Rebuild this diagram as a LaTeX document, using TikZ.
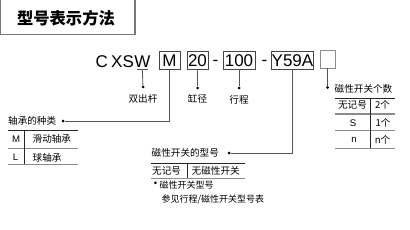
\documentclass[tikz,border=0pt]{standalone}
\usepackage{fontspec}
\setmainfont{Liberation Sans}
\newfontfamily\cjk{Noto Sans CJK SC}
\usepackage{xcolor}
\usepackage{tikz}
\usetikzlibrary{positioning,calc}
\definecolor{boxgray}{RGB}{70,70,70}
\definecolor{leadgray}{RGB}{85,85,85}
\definecolor{sepgray}{RGB}{140,140,140}
\definecolor{framegray}{RGB}{120,120,120}
\newcommand{\codefont}{\fontsize{17}{19}\selectfont}
\newcommand{\lblfont}{\fontsize{9.6}{11}\selectfont}
\newcommand{\notefont}{\fontsize{9}{10}\selectfont}
\tikzset{
  titleframe/.style={draw=framegray, line width=1.3pt},
  % 型号代码
  codetxt/.style={font=\codefont, inner sep=0pt, anchor=base west},
  codebox/.style={draw=boxgray, line width=0.8pt, font=\codefont, inner xsep=0pt, inner ysep=0pt,
    minimum height=17.5pt, text height=12.3pt, text depth=0pt},
  lead/.style={draw=leadgray, line width=0.8pt},
  dot/.style={circle, fill=black, inner sep=0pt, minimum size=3pt},
  lbl/.style={font=\lblfont\cjk, inner sep=0pt},
  latin/.style={font=\lblfont, inner sep=0pt},
  note/.style={font=\notefont\cjk, inner sep=0pt, anchor=west},
  % 表格
  topline/.style={draw=black!85, line width=0.7pt},
  sepline/.style={draw=sepgray, line width=1.3pt},
  colline/.style={draw=black!85, line width=0.8pt}
}
\begin{document}
\begin{tikzpicture}[x=1pt,y=-1pt]
  \useasboundingbox (0,0) rectangle (410,230);

  \draw[titleframe] (0.6,-2) rectangle (135,34.5);
  \node[font=\fontsize{16.3}{18}\selectfont\cjk\bfseries, inner sep=0pt] (title) at (66,18) {型号表示方法};

  % 代码行
  \node[codetxt] (c) at (95.5,67) {C};
  \node[codetxt] (xs) at (111,67) {XS};
  \node[codetxt] (w) at (xs.base east) {W};
  \node[codebox, minimum width=21pt] (m) at (169.5,60.3) {M};
  \node[codebox, minimum width=21pt] (bore) at (197.5,60.3) {20};
  \node[codetxt, anchor=base] (d1) at (215.5,65.3) {-};
  \node[codebox, minimum width=32pt] (stroke) at (239,60.3) {100};
  \node[codetxt, anchor=base] (d2) at (264.5,65.3) {-};
  \node[codebox, minimum width=41pt] (sw) at (292.5,60.3) {Y59A};
  \node[codebox, draw=sepgray, minimum width=15pt, minimum height=18pt] (num) at (327.5,59) {};

  \coordinate (wul) at ([yshift=-2.5pt]w.south);
  \draw[lead] ([xshift=-5.5pt]wul) -- ([xshift=5.5pt]wul);

  % 引线
  \node[dot] (dW) at (143,87) {};
  \node[dot] (dBore) at (197.5,88) {};
  \node[dot] (dStroke) at (239,88) {};
  \node[dot] (dM) at (63,121) {};
  \node[dot] (dSw) at (229,153) {};
  \node[dot] (dNum) at (327.5,87.5) {};
  \draw[lead] (wul) -- (dW);
  \draw[lead] (bore.south) -- (dBore);
  \draw[lead] (stroke.south) -- (dStroke);
  \draw[lead] (m.south) |- (dM);
  \draw[lead] (sw.south) |- (dSw);
  \draw[lead] (num.south) -- (dNum);

  \node[lbl] (rod) at (143,98.5) {双出杆};
  \node[lbl] (borelbl) at (197.5,98.5) {缸径};
  \node[lbl] (strokelbl) at (239,100) {行程};

  % 轴承的种类
  \node[lbl, anchor=west] (bearing) at (8,121) {轴承的种类};
  \draw[topline] (8,130) -- (78,130);
  \draw[sepline] (8,148.3) -- (78,148.3);
  \draw[sepline] (8,164.3) -- (78,164.3);
  \draw[colline] (24,130) -- (24,164.3);
  \node[latin] (bm) at (16,139) {M};
  \node[lbl, anchor=west] (bslide) at (32.5,139) {滑动轴承};
  \node[latin] (bl) at (15.5,157.5) {L};
  \node[lbl, anchor=west] (bball) at (32.5,157.5) {球轴承};

  % 磁性开关的型号
  \node[lbl, anchor=west] (swtype) at (151.5,153) {磁性开关的型号};
  \draw[topline] (151,163) -- (245,163);
  \draw[sepline] (151,178.3) -- (245,178.3);
  \draw[colline] (187,163) -- (187,178.3);
  \node[lbl, anchor=west] (swnone) at (152,170.7) {无记号};
  \node[lbl, anchor=west] (swnomag) at (191.5,170.7) {无磁性开关};
  \node[latin] (bullet) at (155.5,184.5) {•};
  \node[note] (note1) at (159.5,185) {磁性开关型号};
  \node[note] (note2) at (161.5,200) {参见行程/磁性开关型号表};

  % 磁性开关个数
  \node[lbl, anchor=west] (swnum) at (334.5,89.3) {磁性开关个数};
  \draw[topline] (335,98.3) -- (395,98.3);
  \draw[sepline] (335,114) -- (395,114);
  \draw[sepline] (335,130.7) -- (395,130.7);
  \draw[sepline] (335,148.3) -- (395,148.3);
  \draw[colline] (370,98.3) -- (370,148.3);
  \node[lbl] (nnone) at (352.5,105.3) {无记号};
  \node[lbl] (ntwo) at (382.5,105.3) {2个};
  \node[latin] (ns) at (353,122.7) {S};
  \node[lbl] (none) at (383,122.7) {1个};
  \node[latin] (nn) at (354,140) {n};
  \node[lbl] (nmany) at (382.5,140) {n个};
\end{tikzpicture}
\end{document}
